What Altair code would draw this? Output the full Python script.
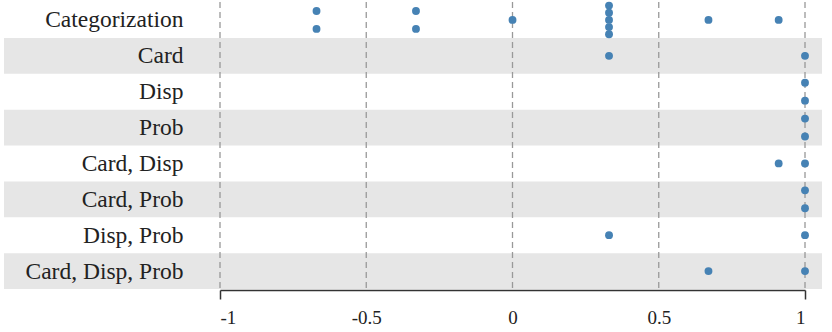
import altair as alt
import pandas as pd
import json

categories = ["Categorization", "Card", "Disp", "Prob", "Card, Disp",
              "Card, Prob", "Disp, Prob", "Card, Disp, Prob"]
values_categorization = [-0.67, -0.67, -0.33, -0.33, 0, 0.33, 0.33, 0.33, 0.33, 0.33, 0.67, 0.91]
values_card = [0.33, 1]
values_disp = [1, 1]
values_prob = [1, 1]
values_card_disp = [0.91, 1]
values_card_prob = [1, 1]
values_disp_prob = [0.33, 1]
values_card_disp_prob = [0.67, 1]
x_ticks = [-1, -0.5, 0, 0.5, 1]

series = [values_categorization, values_card, values_disp, values_prob,
          values_card_disp, values_card_prob, values_disp_prob, values_card_disp_prob]

rows = []
for idx, (cat, vals) in enumerate(zip(categories, series)):
    counts = {}
    for v in vals:
        counts[v] = counts.get(v, 0) + 1
    seen = {}
    for v in vals:
        i = seen.get(v, 0)
        seen[v] = i + 1
        n = counts[v]
        rows.append({"cat": cat, "value": v, "row": idx + (i - (n - 1) / 2) / n})
points = pd.DataFrame(rows)

bands = pd.DataFrame({"cat": [c for i, c in enumerate(categories) if i % 2 == 1],
                      "lo": [i - 0.5 for i in range(len(categories)) if i % 2 == 1],
                      "hi": [i + 0.5 for i in range(len(categories)) if i % 2 == 1]})
grid = pd.DataFrame({"t": x_ticks})

W, H = 585, 287
SERIF = "Liberation Serif, Times New Roman, serif"

yscale = alt.Scale(domain=[-0.5, len(categories) - 0.5], reverse=True, nice=False, zero=False)
xscale = alt.Scale(domain=[-1, 1], nice=False, zero=False)

yaxis = alt.Axis(title=None, domain=False, ticks=False, grid=False,
                 values=list(range(len(categories))),
                 labelExpr=json.dumps(categories) + "[datum.value]",
                 labelFont=SERIF, labelFontSize=23.5, labelColor="#222",
                 labelPadding=37, zindex=1)
xaxis = alt.Axis(title=None, values=x_ticks, grid=False,
                 labelExpr="'' + datum.value",
                 labelFont=SERIF, labelFontSize=19, labelColor="#222",
                 domainColor="#333", domainWidth=1.5,
                 tickColor="#333", tickWidth=1.5, tickSize=9,
                 tickOpacity={"condition": {"test": "abs(datum.value) == 1", "value": 1}, "value": 0},
                 labelPadding=9, offset=1, zindex=1)

band_layer = alt.Chart(bands).mark_rect(color="#e6e6e6").encode(
    y=alt.Y("lo:Q", scale=yscale, axis=yaxis),
    y2="hi:Q",
    x=alt.value(-216),
    x2=alt.value(W + 17),
)

grid_layer = alt.Chart(grid).mark_rule(color="#999", strokeDash=[6, 4], strokeWidth=1.3).encode(
    x=alt.X("t:Q", scale=xscale, axis=xaxis),
)

dot_layer = alt.Chart(points).mark_circle(color="#4682b4", size=62, opacity=1).encode(
    x=alt.X("value:Q", scale=xscale, axis=xaxis),
    y=alt.Y("row:Q", scale=yscale, axis=yaxis),
)

chart = alt.layer(band_layer, grid_layer, dot_layer).properties(
    width=W, height=H,
    autosize=alt.AutoSizeParams(type="none"),
    padding={"left": 220, "top": 2, "right": 27, "bottom": 43},
).configure_view(stroke=None)

chart.save("out.html", embed_options={"renderer": "svg", "actions": False})
